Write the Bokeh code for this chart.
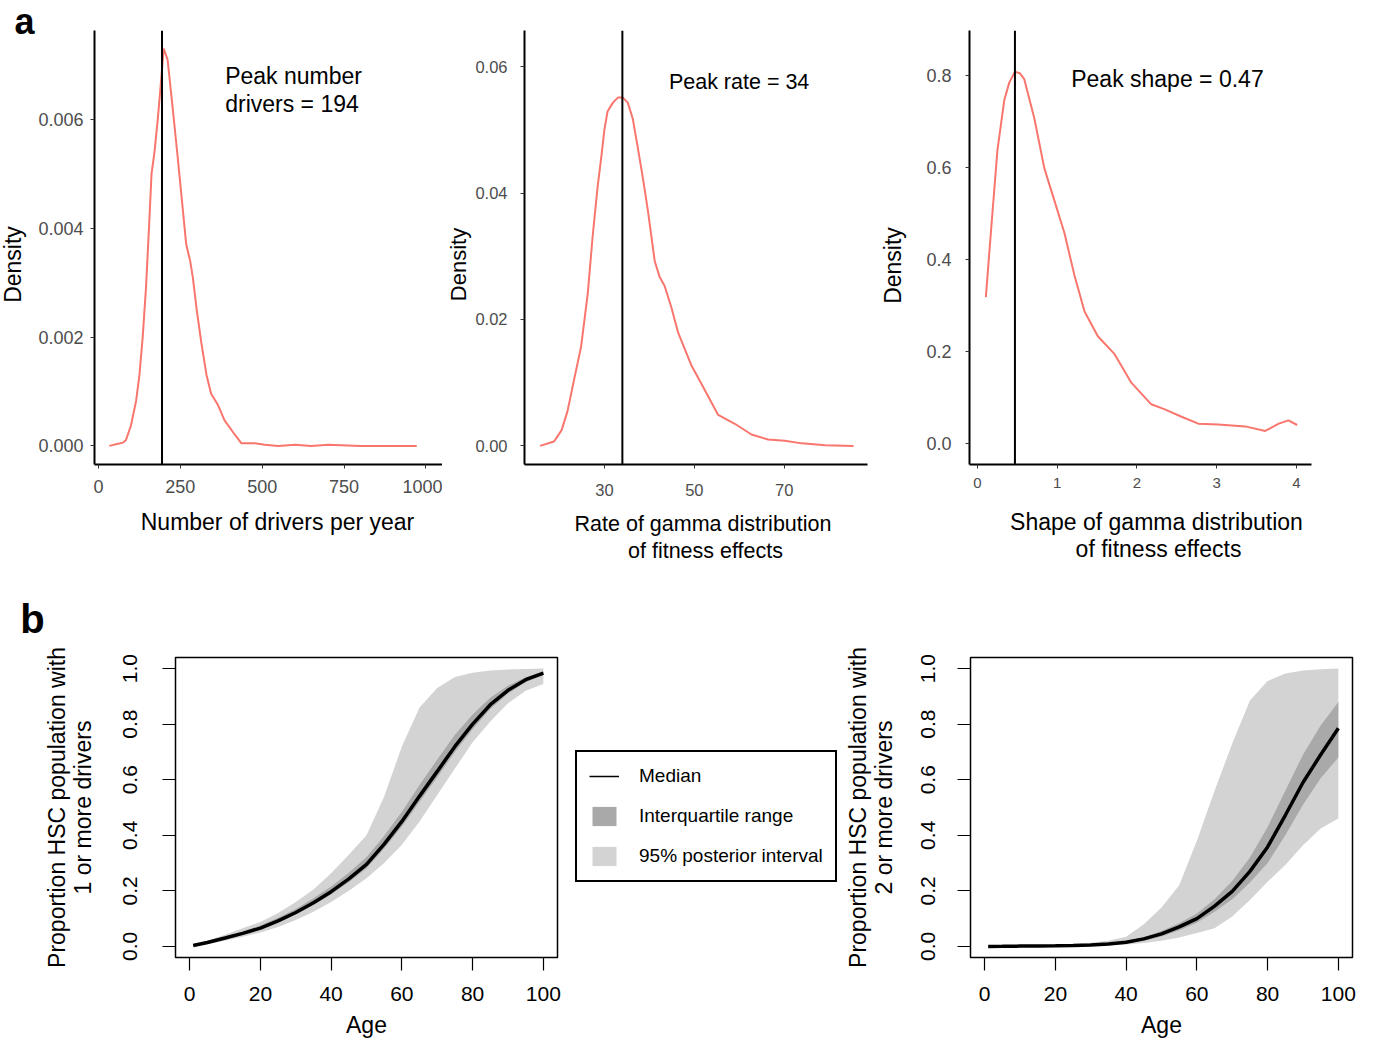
import math
from bokeh.plotting import figure
from bokeh.models import (Range1d, FixedTicker, NumeralTickFormatter, Span, Label,
                          Legend, LegendItem)
from bokeh.layouts import row, column
from bokeh.embed import file_html
from bokeh.resources import INLINE

FONT = "Liberation Sans"
RED = "#F8766D"

# ---------------- panel a data ----------------
drivers_x = [33, 60, 75, 84, 99, 115, 125, 135, 145, 155, 162, 171, 181, 191, 199, 211, 225, 242,
             255, 268, 280, 288, 300, 314, 330, 344, 365, 385, 416, 436, 477, 508, 549, 600, 650,
             702, 800, 900, 972]
drivers_density = [0.0, 0.00004, 0.00006, 0.00011, 0.00037, 0.00083, 0.0013, 0.002, 0.0029, 0.0041,
                   0.005, 0.0054, 0.006, 0.0067, 0.0073, 0.0071, 0.0063, 0.0053, 0.0045, 0.0037,
                   0.0034, 0.0031, 0.0025, 0.0019, 0.0013, 0.00096, 0.00075, 0.00047, 0.00021,
                   0.00005, 0.00005, 0.00002, 0.0, 0.00002, 0.0, 0.00002, 0.0, 0.0, 0.0]
peak_drivers = 194

rate_x = [15.7, 18.8, 20.5, 21.8, 23.3, 24.8, 26.3, 27.4, 28.5, 29.3, 30.0, 30.7, 31.9, 33.0, 34.1,
          35.2, 36.3, 37.4, 38.6, 39.7, 41.2, 42.3, 43.4, 44.9, 46.4, 49.3, 51.9, 55.3, 59.0, 62.7,
          66.4, 70.1, 73.9, 79.1, 85.4]
rate_density = [0.0, 0.0007, 0.0025, 0.0055, 0.0106, 0.0156, 0.0241, 0.0332, 0.041, 0.0456, 0.050,
                0.0529, 0.0543, 0.0551, 0.0551, 0.0543, 0.0518, 0.0473, 0.0422, 0.0371, 0.0292,
                0.0267, 0.0253, 0.0219, 0.0179, 0.0128, 0.0094, 0.0049, 0.0035, 0.0018, 0.001,
                0.0008, 0.0004, 0.0001, 0.0]
peak_rate = 34

shape_x = [0.105, 0.168, 0.25, 0.336, 0.40, 0.47, 0.53, 0.587, 0.713, 0.839, 0.965, 1.09, 1.217,
           1.343, 1.51, 1.72, 1.93, 2.18, 2.35, 2.56, 2.77, 3.02, 3.36, 3.61, 3.78, 3.90, 4.01]
shape_density = [0.318, 0.458, 0.637, 0.746, 0.785, 0.808, 0.805, 0.792, 0.707, 0.598, 0.528,
                 0.458, 0.365, 0.287, 0.233, 0.194, 0.132, 0.085, 0.074, 0.058, 0.043, 0.041,
                 0.037, 0.027, 0.043, 0.050, 0.040]
peak_shape = 0.47

# ---------------- panel b data ----------------
ages = [1, 5, 10, 15, 20, 25, 30, 35, 40, 45, 50, 55, 60, 65, 70, 75, 80, 85, 90, 95, 100]

median1 = [0.003, 0.014, 0.030, 0.047, 0.066, 0.092, 0.122, 0.157, 0.197, 0.243, 0.295, 0.368,
           0.450, 0.541, 0.630, 0.720, 0.800, 0.870, 0.922, 0.960, 0.984]
iqr_hi1 = [0.004, 0.017, 0.035, 0.054, 0.075, 0.103, 0.135, 0.173, 0.216, 0.265, 0.321, 0.398,
           0.485, 0.581, 0.673, 0.762, 0.835, 0.895, 0.938, 0.969, 0.989]
iqr_lo1 = [0.002, 0.012, 0.027, 0.043, 0.061, 0.086, 0.115, 0.149, 0.187, 0.231, 0.281, 0.352,
           0.432, 0.521, 0.609, 0.700, 0.782, 0.855, 0.910, 0.951, 0.977]
hi95_1 = [0.005, 0.020, 0.042, 0.065, 0.088, 0.120, 0.160, 0.205, 0.263, 0.330, 0.400, 0.540,
          0.720, 0.860, 0.930, 0.970, 0.985, 0.993, 0.997, 0.999, 1.000]
lo95_1 = [0.001, 0.008, 0.020, 0.035, 0.050, 0.070, 0.095, 0.125, 0.160, 0.200, 0.245, 0.300,
          0.366, 0.450, 0.545, 0.640, 0.735, 0.810, 0.875, 0.920, 0.945]

median2 = [0.0, 0.0003, 0.001, 0.0015, 0.002, 0.003, 0.005, 0.009, 0.015, 0.027, 0.045, 0.070,
           0.100, 0.145, 0.198, 0.270, 0.358, 0.472, 0.590, 0.690, 0.785]
iqr_hi2 = [0.0, 0.0005, 0.0015, 0.002, 0.003, 0.004, 0.007, 0.012, 0.020, 0.034, 0.055, 0.083,
           0.118, 0.170, 0.235, 0.320, 0.430, 0.560, 0.690, 0.795, 0.880]
iqr_lo2 = [0.0, 0.0002, 0.0007, 0.001, 0.0015, 0.002, 0.004, 0.007, 0.012, 0.021, 0.036, 0.058,
           0.085, 0.125, 0.170, 0.230, 0.300, 0.400, 0.510, 0.605, 0.680]
hi95_2 = [0.0005, 0.001, 0.002, 0.004, 0.006, 0.009, 0.013, 0.020, 0.035, 0.080, 0.140, 0.220,
          0.380, 0.560, 0.730, 0.885, 0.955, 0.982, 0.993, 0.998, 1.000]
lo95_2 = [0.0, 0.0, 0.0, 0.0005, 0.001, 0.0015, 0.002, 0.004, 0.007, 0.012, 0.020, 0.032, 0.048,
          0.065, 0.108, 0.167, 0.233, 0.293, 0.364, 0.424, 0.460]

age_ticks = [0, 20, 40, 60, 80, 100]
prop_ticks = [0.0, 0.2, 0.4, 0.6, 0.8, 1.0]


def style_a(p, xticks, yticks, yfmt, tick_size, x_tick_size=None):
    p.xaxis.ticker = FixedTicker(ticks=xticks)
    p.yaxis.ticker = FixedTicker(ticks=yticks)
    p.yaxis.formatter = NumeralTickFormatter(format=yfmt)
    for ax in (p.xaxis[0], p.yaxis[0]):
        ax.axis_line_color = "black"
        ax.axis_line_width = 2
        ax.major_tick_out = 4
        ax.major_tick_in = 0
        ax.major_tick_line_color = "#333333"
        ax.major_tick_line_width = 1
        ax.minor_tick_line_color = None
        ax.major_label_text_color = "#4d4d4d"
        ax.major_label_text_font = FONT
        ax.major_label_text_font_size = tick_size
    if x_tick_size:
        p.xaxis.major_label_text_font_size = x_tick_size
    p.xgrid.visible = False
    p.ygrid.visible = False
    p.outline_line_color = None
    p.border_fill_color = None


def overlay_figure(w, h):
    # transparent canvas in pixel units, overlapped (through negative margin) by the next row
    f = figure(width=w, height=h, x_range=Range1d(0, w), y_range=Range1d(h, 0),
               x_axis_location=None, y_axis_location=None, output_backend="svg",
               toolbar_location=None, min_border=0)
    f.outline_line_color = None
    f.xgrid.visible = False
    f.ygrid.visible = False
    f.border_fill_color = None
    f.background_fill_color = None
    f.margin = (0, 0, -h, 0)
    return f


def letter(f, text, x, y, size="40px"):
    f.add_layout(Label(x=x, y=y, text=text, text_font=FONT, text_font_size=size,
                       text_font_style="bold", text_color="black", text_align="center",
                       text_baseline="middle"))


def title(f, text, x, y, size="23px", angle=0.0):
    f.add_layout(Label(x=x, y=y, text=text, text_font=FONT, text_font_size=size,
                       text_color="black", angle=angle, text_align="center",
                       text_baseline="middle"))


def note(p, text, x, y, size="23px"):
    p.add_layout(Label(x=x, y=y, text=text, text_font=FONT, text_font_size=size,
                       text_color="black", text_baseline="middle", text_align="left"))


# ---------------- a1 ----------------
a1 = figure(width=442, height=575, x_range=Range1d(-12.2, 1050.7), y_range=Range1d(-0.000342, 0.007634),
            output_backend="svg", toolbar_location=None,
            min_border_left=94, min_border_right=0, min_border_top=30, min_border_bottom=111)
a1.line(drivers_x, drivers_density, line_color=RED, line_width=2)
a1.add_layout(Span(location=peak_drivers, dimension="height", line_color="black", line_width=2))
style_a(a1, [0, 250, 500, 750, 1000], [0, 0.002, 0.004, 0.006], "0.000", "18px")
a1.yaxis.major_label_standoff = 7
a1.xaxis.major_label_standoff = 11
note(a1, "Peak  number", 387, 0.006794)
note(a1, "drivers = 194", 387, 0.006281)

# ---------------- a2 ----------------
a2 = figure(width=438, height=575, x_range=Range1d(12.24, 88.5), y_range=Range1d(-0.002943, 0.065711),
            output_backend="svg", toolbar_location=None,
            min_border_left=82, min_border_right=13, min_border_top=30, min_border_bottom=111)
a2.line(rate_x, rate_density, line_color=RED, line_width=2)
a2.add_layout(Span(location=peak_rate, dimension="height", line_color="black", line_width=2))
style_a(a2, [30, 50, 70], [0, 0.02, 0.04, 0.06], "0.00", "16.5px")
a2.yaxis.major_label_standoff = 13
a2.xaxis.major_label_standoff = 15
note(a2, "Peak rate = 34", 44.34, 0.05749, size="21.5px")

# ---------------- a3 ----------------
a3 = figure(width=487, height=575, x_range=Range1d(-0.1, 4.19), y_range=Range1d(-0.04588, 0.89785),
            output_backend="svg", toolbar_location=None,
            min_border_left=89, min_border_right=56, min_border_top=30, min_border_bottom=111)
a3.line(shape_x, shape_density, line_color=RED, line_width=2)
a3.add_layout(Span(location=peak_shape, dimension="height", line_color="black", line_width=2))
style_a(a3, [0, 1, 2, 3, 4], [0, 0.2, 0.4, 0.6, 0.8], "0.0", "18px", x_tick_size="15px")
a3.yaxis.major_label_standoff = 14
a3.xaxis.major_label_standoff = 9
note(a3, "Peak shape = 0.47", 1.176, 0.7918)

# overlay for the top row: panel letter and axis titles (placed where the reference has them)
ov_top = overlay_figure(1367, 575)
letter(ov_top, "a", 24, 21, size="36px")
title(ov_top, "Density", 12.5, 264, angle=math.pi / 2)
title(ov_top, "Density", 457.5, 264, size="22px", angle=math.pi / 2)
title(ov_top, "Density", 892.5, 265, angle=math.pi / 2)
title(ov_top, "Number of drivers per year", 277, 521)
title(ov_top, "Rate of gamma distribution", 702.5, 523, size="21.5px")
title(ov_top, "of fitness effects", 705, 550, size="21.5px")
title(ov_top, "Shape of gamma distribution", 1156, 521)
title(ov_top, "of fitness effects", 1158, 548)


# ---------------- panel b ----------------
def style_b(p, ytitle):
    p.xaxis.ticker = FixedTicker(ticks=age_ticks)
    p.yaxis.ticker = FixedTicker(ticks=prop_ticks)
    p.yaxis.formatter = NumeralTickFormatter(format="0.0")
    p.outline_line_color = "black"
    p.outline_line_width = 1.5
    p.outline_line_alpha = 1.0
    for ax in (p.xaxis[0], p.yaxis[0]):
        ax.axis_line_color = None
        ax.major_tick_out = 13
        ax.major_tick_in = 0
        ax.major_tick_line_color = "black"
        ax.major_tick_line_width = 1.2
        ax.minor_tick_line_color = None
        ax.major_label_text_color = "black"
        ax.major_label_text_font = FONT
        ax.major_label_text_font_size = "21px"
        ax.axis_label_text_font = FONT
        ax.axis_label_text_font_style = "normal"
        ax.axis_label_text_color = "black"
        ax.axis_label_text_font_size = "23px"
        ax.axis_label_text_line_height = 1.0
    p.yaxis.major_label_orientation = "vertical"
    p.xaxis.axis_label = "Age"
    p.yaxis.axis_label = ytitle
    p.xaxis.major_label_standoff = 16
    p.xaxis.axis_label_standoff = 8
    p.xgrid.visible = False
    p.ygrid.visible = False


b1 = figure(width=569, height=470, x_range=Range1d(-4, 104), y_range=Range1d(-0.04, 1.04),
            output_backend="svg", toolbar_location=None,
            min_border_left=175, min_border_right=12, min_border_top=82, min_border_bottom=88)
b1.border_fill_color = None
b1.varea(ages, lo95_1, hi95_1, fill_color="#d3d3d3")
b1.varea(ages, iqr_lo1, iqr_hi1, fill_color="#a9a9a9")
b1.line(ages, median1, line_color="black", line_width=3.5)
style_b(b1, "Proportion HSC population with\n1 or more drivers")
b1.yaxis.major_label_standoff = 25
b1.yaxis.axis_label_standoff = 25

b2 = figure(width=526, height=470, x_range=Range1d(-4, 104), y_range=Range1d(-0.04, 1.04),
            output_backend="svg", toolbar_location=None,
            min_border_left=128, min_border_right=15, min_border_top=82, min_border_bottom=88)
b2.varea(ages, lo95_2, hi95_2, fill_color="#d3d3d3")
b2.varea(ages, iqr_lo2, iqr_hi2, fill_color="#a9a9a9")
b2.line(ages, median2, line_color="black", line_width=3.5)
style_b(b2, "Proportion HSC population with\n2 or more drivers")
b2.yaxis.major_label_standoff = 22
b2.yaxis.axis_label_standoff = 22

# ---------------- legend panel ----------------
pm = figure(width=272, height=470, x_range=Range1d(0, 1), y_range=Range1d(0, 1),
            x_axis_location=None, y_axis_location=None, output_backend="svg",
            toolbar_location=None, min_border_left=0, min_border_right=0,
            min_border_top=82, min_border_bottom=88)
pm.outline_line_color = None
pm.xgrid.visible = False
pm.ygrid.visible = False
# legend keys only: drawn outside the visible range of this blank panel
r_med = pm.line(x=[5, 6], y=[5, 6], line_color="black", line_width=1.5)
r_iqr = pm.varea(x=[5, 6], y1=[5, 5], y2=[6, 6], fill_color="#a9a9a9")
r_95 = pm.varea(x=[5, 6], y1=[5, 5], y2=[6, 6], fill_color="#d3d3d3")
legend = Legend(items=[LegendItem(label="Median", renderers=[r_med]),
                       LegendItem(label="Interquartile range", renderers=[r_iqr]),
                       LegendItem(label="95% posterior interval", renderers=[r_95])],
                location=(6, 75), border_line_color="black", border_line_width=2,
                border_line_alpha=1.0, background_fill_alpha=1.0, label_text_font=FONT,
                label_text_font_size="19px", label_text_color="black", glyph_width=30,
                glyph_height=24, spacing=16, padding=12, label_standoff=20, margin=0)
pm.add_layout(legend, "center")

ov_b = overlay_figure(80, 80)
letter(ov_b, "b", 32, 43)

layout = column(ov_top, row(a1, a2, a3), ov_b, row(b1, pm, b2))
open("out.html", "w").write(file_html(layout, INLINE))
